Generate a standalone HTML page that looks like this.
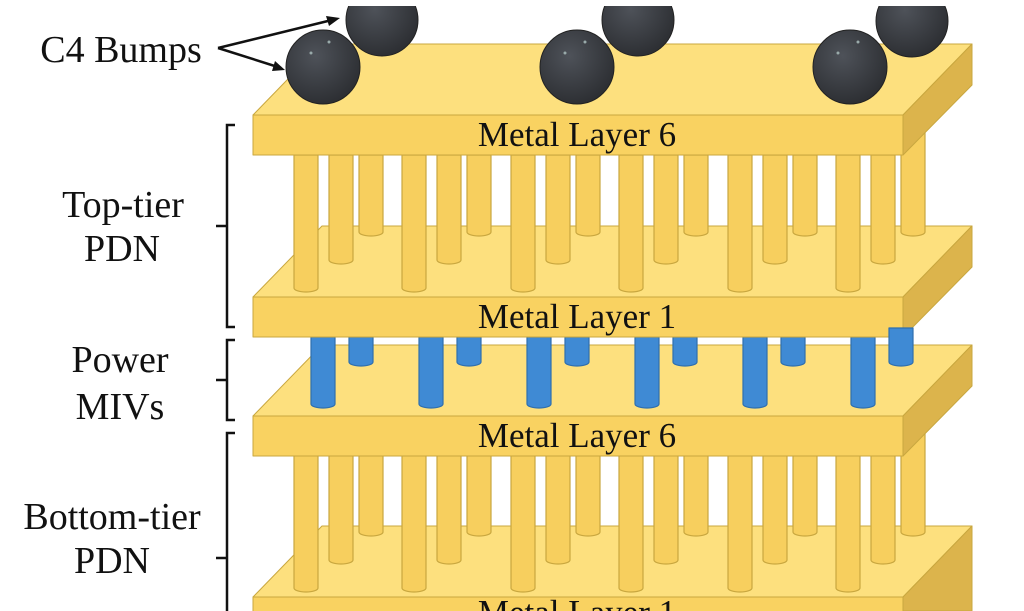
<!DOCTYPE html>
<html><head><style>html,body{margin:0;padding:0;background:#fff;}svg{display:block}</style></head>
<body>
<svg width="1024" height="611" viewBox="0 0 1024 611" xmlns="http://www.w3.org/2000/svg" font-family="Liberation Serif, serif">
<defs>
<radialGradient id="b" cx="0.4" cy="0.35" r="0.7">
<stop offset="0" stop-color="#4e5259"/><stop offset="1" stop-color="#2b2d31"/>
</radialGradient>
<clipPath id="top"><rect x="0" y="6" width="1024" height="605"/></clipPath>
</defs>
<rect width="1024" height="611" fill="#fff"/>
<g id="all" stroke-linejoin="round">
<!-- slab 4 -->
<polygon points="253,597 322,526 972,526 903,597" fill="#fde07e" stroke="#c9a73f"/>
<polygon points="903,597 972,526 972,611 903,611" fill="#dcb44c" stroke="#c9a73f"/>
<rect x="253" y="597" width="650" height="20" fill="#f9d261" stroke="#c9a73f"/>
<text x="577" y="624" font-size="35" text-anchor="middle" fill="#111">Metal Layer 1</text>
<!-- bottom pillars -->
<g fill="#f7cf5e" stroke="#c9a73f" stroke-width="1.2">
<path d="M359,455 V532 a12,4 0 0 0 24,0 V455Z"/><path d="M467,455 V532 a12,4 0 0 0 24,0 V455Z"/><path d="M576,455 V532 a12,4 0 0 0 24,0 V455Z"/><path d="M684,455 V532 a12,4 0 0 0 24,0 V455Z"/><path d="M793,455 V532 a12,4 0 0 0 24,0 V455Z"/><path d="M901,430 V532 a12,4 0 0 0 24,0 V430Z"/>
<path d="M329,455 V560 a12,4 0 0 0 24,0 V455Z"/><path d="M437,455 V560 a12,4 0 0 0 24,0 V455Z"/><path d="M546,455 V560 a12,4 0 0 0 24,0 V455Z"/><path d="M654,455 V560 a12,4 0 0 0 24,0 V455Z"/><path d="M763,455 V560 a12,4 0 0 0 24,0 V455Z"/><path d="M871,455 V560 a12,4 0 0 0 24,0 V455Z"/>
<path d="M294,455 V588 a12,4 0 0 0 24,0 V455Z"/><path d="M402,455 V588 a12,4 0 0 0 24,0 V455Z"/><path d="M511,455 V588 a12,4 0 0 0 24,0 V455Z"/><path d="M619,455 V588 a12,4 0 0 0 24,0 V455Z"/><path d="M728,455 V588 a12,4 0 0 0 24,0 V455Z"/><path d="M836,455 V588 a12,4 0 0 0 24,0 V455Z"/>
</g>
<!-- slab 3 -->
<polygon points="253,416 322,345 972,345 903,416" fill="#fde07e" stroke="#c9a73f"/>
<polygon points="903,416 972,345 972,386 903,456" fill="#dcb44c" stroke="#c9a73f"/>
<rect x="253" y="416" width="650" height="40" fill="#f9d261" stroke="#c9a73f"/>
<text x="577" y="447" font-size="35" text-anchor="middle" fill="#111">Metal Layer 6</text>
<!-- blue MIVs -->
<g fill="#3f8ad4" stroke="#2f6fae" stroke-width="1.2">
<path d="M349,337 V362 a12,4 0 0 0 24,0 V337Z"/><path d="M457,337 V362 a12,4 0 0 0 24,0 V337Z"/><path d="M565,337 V362 a12,4 0 0 0 24,0 V337Z"/><path d="M673,337 V362 a12,4 0 0 0 24,0 V337Z"/><path d="M781,337 V362 a12,4 0 0 0 24,0 V337Z"/>
<path d="M311,337 V404 a12,4 0 0 0 24,0 V337Z"/><path d="M419,337 V404 a12,4 0 0 0 24,0 V337Z"/><path d="M527,337 V404 a12,4 0 0 0 24,0 V337Z"/><path d="M635,337 V404 a12,4 0 0 0 24,0 V337Z"/><path d="M743,337 V404 a12,4 0 0 0 24,0 V337Z"/><path d="M851,337 V404 a12,4 0 0 0 24,0 V337Z"/>
</g>
<!-- slab 2 -->
<polygon points="253,297 322,226 972,226 903,297" fill="#fde07e" stroke="#c9a73f"/>
<polygon points="903,297 972,226 972,267 903,337" fill="#dcb44c" stroke="#c9a73f"/>
<rect x="253" y="297" width="650" height="40" fill="#f9d261" stroke="#c9a73f"/>
<path d="M889,328 H913 V362 a12,4 0 0 1 -24,0 Z" fill="#3f8ad4" stroke="#2f6fae" stroke-width="1.2"/>
<text x="577" y="328" font-size="35" text-anchor="middle" fill="#111">Metal Layer 1</text>
<!-- top pillars -->
<g fill="#f7cf5e" stroke="#c9a73f" stroke-width="1.2">
<path d="M359,155 V232 a12,4 0 0 0 24,0 V155Z"/><path d="M467,155 V232 a12,4 0 0 0 24,0 V155Z"/><path d="M576,155 V232 a12,4 0 0 0 24,0 V155Z"/><path d="M684,155 V232 a12,4 0 0 0 24,0 V155Z"/><path d="M793,155 V232 a12,4 0 0 0 24,0 V155Z"/><path d="M901,130 V232 a12,4 0 0 0 24,0 V130Z"/>
<path d="M329,155 V260 a12,4 0 0 0 24,0 V155Z"/><path d="M437,155 V260 a12,4 0 0 0 24,0 V155Z"/><path d="M546,155 V260 a12,4 0 0 0 24,0 V155Z"/><path d="M654,155 V260 a12,4 0 0 0 24,0 V155Z"/><path d="M763,155 V260 a12,4 0 0 0 24,0 V155Z"/><path d="M871,155 V260 a12,4 0 0 0 24,0 V155Z"/>
<path d="M294,155 V288 a12,4 0 0 0 24,0 V155Z"/><path d="M402,155 V288 a12,4 0 0 0 24,0 V155Z"/><path d="M511,155 V288 a12,4 0 0 0 24,0 V155Z"/><path d="M619,155 V288 a12,4 0 0 0 24,0 V155Z"/><path d="M728,155 V288 a12,4 0 0 0 24,0 V155Z"/><path d="M836,155 V288 a12,4 0 0 0 24,0 V155Z"/>
</g>
<!-- slab 1 -->
<polygon points="253,115 322,44 972,44 903,115" fill="#fde07e" stroke="#c9a73f"/>
<polygon points="903,115 972,44 972,85 903,155" fill="#dcb44c" stroke="#c9a73f"/>
<rect x="253" y="115" width="650" height="40" fill="#f9d261" stroke="#c9a73f"/>
<text x="577" y="146" font-size="35" text-anchor="middle" fill="#111">Metal Layer 6</text>
<!-- bumps -->
<g clip-path="url(#top)" fill="url(#b)" stroke="#222" stroke-width="1">
<circle cx="382" cy="20" r="36"/><circle cx="638" cy="20" r="36"/><circle cx="912" cy="21" r="36"/>
<circle cx="323" cy="67" r="37"/><circle cx="577" cy="67" r="37"/><circle cx="850" cy="67" r="37"/>
</g>
<g fill="#9aa">
<circle cx="311" cy="53" r="1.5"/><circle cx="329" cy="42" r="1.5"/><circle cx="565" cy="53" r="1.5"/><circle cx="585" cy="42" r="1.5"/><circle cx="838" cy="53" r="1.5"/><circle cx="858" cy="42" r="1.5"/>
</g>
</g>
<!-- labels -->
<g font-size="38" fill="#111" text-anchor="middle">
<text x="121" y="62">C4 Bumps</text>
<text x="123" y="217">Top-tier</text>
<text x="122" y="261">PDN</text>
<text x="120" y="372">Power</text>
<text x="120" y="419">MIVs</text>
<text x="112" y="529">Bottom-tier</text>
<text x="112" y="573">PDN</text>
</g>
<g stroke="#111" stroke-width="2.5" fill="none">
<line x1="218" y1="48" x2="336" y2="19"/><line x1="218" y1="48" x2="281" y2="68"/>
<path d="M235,125 H227 V327 H235 M227,226 H216"/>
<path d="M235,340 H227 V420 H235 M227,380 H216"/>
<path d="M235,433 H227 V611 M227,558 H216"/>
</g>
<polygon points="340,18 326,16 329,26" fill="#111"/>
<polygon points="285,70 275,61 272,71" fill="#111"/>
</svg>
</body></html>
